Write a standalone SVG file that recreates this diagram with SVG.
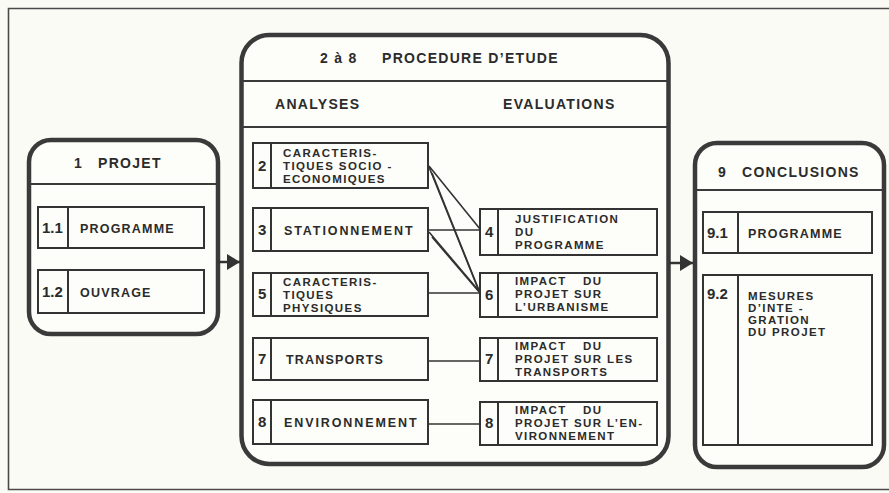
<svg xmlns="http://www.w3.org/2000/svg" width="889" height="493" viewBox="0 0 889 493">
<defs>
<style>
.bg{fill:#fbfbf6}
.frame{fill:none;stroke:#4a4a4a;stroke-width:1.6}
.big{fill:#fdfdf9;stroke:#3a3a3a;stroke-width:4.5}
.sep{stroke:#3a3a3a;stroke-width:2}
.box{fill:#fdfdf9;stroke:#333;stroke-width:2}
.div{stroke:#333;stroke-width:2}
.con{stroke:#333;stroke-width:1.6;fill:none}
.arr{stroke:#333;stroke-width:2.5;fill:none}
text{font-family:"Liberation Sans",Arial,sans-serif;font-weight:bold;fill:#2b2b2b}
.h{font-size:14px;letter-spacing:1.3px}
.n{font-size:15px}
.t{font-size:12.5px;letter-spacing:1.2px}
.w{letter-spacing:1.9px}
.m{font-size:11.5px;letter-spacing:1.4px}
</style>
<marker id="ah" markerUnits="userSpaceOnUse" markerWidth="14" markerHeight="18" refX="13" refY="9" orient="auto">
<path d="M0,1 L13,9 L0,17 z" fill="#333"/>
</marker>
</defs>
<rect class="bg" x="0" y="0" width="889" height="493"/>
<path class="frame" d="M889,8.5 H8.5 V489.5 H889"/>

<g id="projet">
<rect class="big" x="29" y="140" width="189" height="194" rx="22"/>
<line class="sep" x1="29" y1="184" x2="218" y2="184"/>
<text class="h" x="74" y="168">1</text>
<text class="h" x="98" y="168">PROJET</text>
</g>
<g id="n1-1">
<rect class="box" x="38" y="207" width="166" height="41"/>
<line class="div" x1="68" y1="207" x2="68" y2="248"/>
<text class="n" x="42" y="233">1.1</text>
<text class="t" x="80" y="233">PROGRAMME</text>
</g>
<g id="n1-2">
<rect class="box" x="38" y="270" width="166" height="43"/>
<line class="div" x1="68" y1="270" x2="68" y2="313"/>
<text class="n" x="42" y="297">1.2</text>
<text class="t" x="80" y="297">OUVRAGE</text>
</g>

<g id="procedure">
<rect class="big" x="241.5" y="35" width="427" height="429" rx="28"/>
<line class="sep" x1="241.5" y1="81" x2="668.5" y2="81"/>
<line class="sep" x1="241.5" y1="127" x2="668.5" y2="127"/>
<text class="h" x="320" y="63">2 à 8</text>
<text class="h" x="382" y="63">PROCEDURE D’ETUDE</text>
<text class="h" x="275" y="109">ANALYSES</text>
<text class="h" x="503" y="109">EVALUATIONS</text>
</g>

<g id="n2">
<rect class="box" x="253" y="143" width="175" height="45"/>
<line class="div" x1="271" y1="143" x2="271" y2="188"/>
<text class="n" x="258" y="171">2</text>
<text class="m" x="283" y="157">CARACTERIS-</text>
<text class="m" x="283" y="170">TIQUES SOCIO -</text>
<text class="m" x="283" y="183">ECONOMIQUES</text>
</g>
<g id="n3">
<rect class="box" x="253" y="208" width="175" height="43"/>
<line class="div" x1="271" y1="208" x2="271" y2="251"/>
<text class="n" x="258" y="235">3</text>
<text class="t w" x="284" y="235">STATIONNEMENT</text>
</g>
<g id="n5">
<rect class="box" x="253" y="273" width="175" height="43"/>
<line class="div" x1="271" y1="273" x2="271" y2="316"/>
<text class="n" x="258" y="299">5</text>
<text class="m" x="283" y="286">CARACTERIS-</text>
<text class="m" x="283" y="299">TIQUES</text>
<text class="m" x="283" y="312">PHYSIQUES</text>
</g>
<g id="n7a">
<rect class="box" x="253" y="338" width="175" height="42"/>
<line class="div" x1="271" y1="338" x2="271" y2="380"/>
<text class="n" x="258" y="364">7</text>
<text class="t" x="286" y="364">TRANSPORTS</text>
</g>
<g id="n8a">
<rect class="box" x="253" y="400" width="175" height="44"/>
<line class="div" x1="271" y1="400" x2="271" y2="444"/>
<text class="n" x="258" y="427">8</text>
<text class="t w" x="284" y="427">ENVIRONNEMENT</text>
</g>

<g id="n4">
<rect class="box" x="480" y="209" width="177" height="46"/>
<line class="div" x1="498" y1="209" x2="498" y2="255"/>
<text class="n" x="485" y="237">4</text>
<text class="m" x="515" y="223">JUSTIFICATION</text>
<text class="m" x="515" y="236">DU</text>
<text class="m" x="515" y="249">PROGRAMME</text>
</g>
<g id="n6">
<rect class="box" x="480" y="273" width="177" height="44"/>
<line class="div" x1="498" y1="273" x2="498" y2="317"/>
<text class="n" x="485" y="300">6</text>
<text class="m" x="515" y="285">IMPACT<tspan x="583">DU</tspan></text>
<text class="m" x="515" y="298">PROJET SUR</text>
<text class="m" x="515" y="311">L’URBANISME</text>
</g>
<g id="n7b">
<rect class="box" x="480" y="338" width="177" height="43"/>
<line class="div" x1="498" y1="338" x2="498" y2="381"/>
<text class="n" x="485" y="364">7</text>
<text class="m" x="515" y="350">IMPACT<tspan x="583">DU</tspan></text>
<text class="m" x="515" y="363">PROJET SUR LES</text>
<text class="m" x="515" y="376">TRANSPORTS</text>
</g>
<g id="n8b">
<rect class="box" x="480" y="402" width="177" height="43"/>
<line class="div" x1="498" y1="402" x2="498" y2="445"/>
<text class="n" x="485" y="428">8</text>
<text class="m" x="515" y="414">IMPACT<tspan x="583">DU</tspan></text>
<text class="m" x="515" y="427">PROJET SUR L’EN-</text>
<text class="m" x="515" y="440">VIRONNEMENT</text>
</g>

<g id="conclusions">
<rect class="big" x="695" y="143" width="189" height="324" rx="22"/>
<line class="sep" x1="695" y1="190" x2="884" y2="190"/>
<text class="h" x="718" y="177">9</text>
<text class="h" x="742" y="177">CONCLUSIONS</text>
</g>
<g id="n9-1">
<rect class="box" x="703" y="212" width="169" height="41"/>
<line class="div" x1="738" y1="212" x2="738" y2="253"/>
<text class="n" x="707" y="238">9.1</text>
<text class="t" x="748" y="238">PROGRAMME</text>
</g>
<g id="n9-2">
<rect class="box" x="703" y="275" width="169" height="170"/>
<line class="div" x1="738" y1="275" x2="738" y2="445"/>
<text class="n" x="707" y="299">9.2</text>
<text class="m" x="748" y="300">MESURES</text>
<text class="m" x="748" y="312">D’INTE -</text>
<text class="m" x="748" y="324">GRATION</text>
<text class="m" x="748" y="336">DU PROJET</text>
</g>

<g id="connectors">
<line class="arr" x1="218" y1="262" x2="240" y2="262" marker-end="url(#ah)"/>
<line class="arr" x1="669" y1="263" x2="693" y2="263" marker-end="url(#ah)"/>
<line class="con" x1="429" y1="166" x2="480" y2="229"/>
<line class="con" x1="429" y1="167" x2="479" y2="291"/>
<line class="con" x1="432" y1="173" x2="480" y2="293"/>
<line class="con" x1="429" y1="230" x2="480" y2="230"/>
<line class="con" x1="429" y1="232" x2="479" y2="291"/>
<line class="con" x1="432" y1="237" x2="480" y2="293"/>
<line class="con" x1="429" y1="293" x2="480" y2="293"/>
<line class="con" x1="429" y1="361" x2="480" y2="361"/>
<line class="con" x1="429" y1="424" x2="480" y2="424"/>
</g>
</svg>
